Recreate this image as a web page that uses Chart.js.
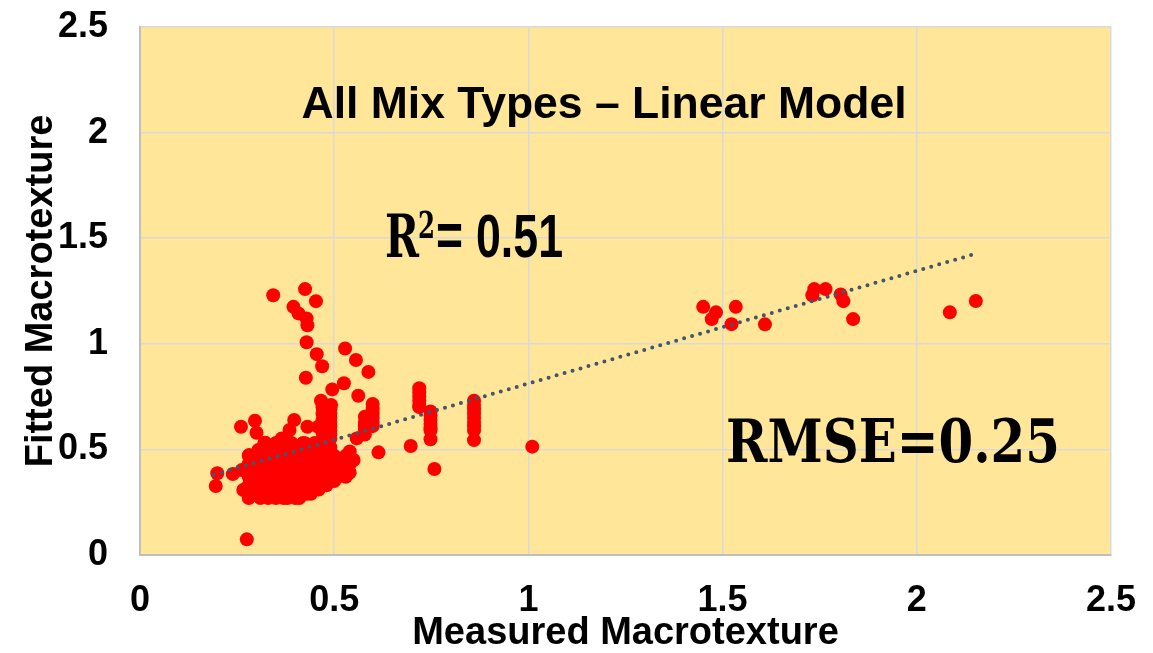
<!DOCTYPE html>
<html>
<head>
<meta charset="utf-8">
<script src="https://cdn.jsdelivr.net/npm/chart.js@4.4.1/dist/chart.umd.min.js"></script>
<style>
  html, body { margin: 0; padding: 0; background: #fff; }
  canvas { display: block; }
</style>
</head>
<body>
<canvas id="chart" width="1153" height="653"></canvas>
<script>
(function () {

  // [measured, fitted] pairs, dense group around 0.3 - 0.55
  const clusterPoints = [
    [0.28,0.27],[0.31,0.27],[0.33,0.27],[0.35,0.27],[0.37,0.27],[0.38,0.27],[0.40,0.27],[0.41,0.27],
    [0.29,0.29],[0.32,0.29],[0.34,0.29],[0.36,0.29],[0.39,0.29],[0.42,0.29],[0.43,0.29],[0.44,0.29],
    [0.27,0.31],[0.30,0.31],[0.33,0.31],[0.35,0.31],[0.37,0.31],[0.40,0.31],[0.42,0.31],[0.45,0.31],[0.46,0.31],
    [0.28,0.33],[0.31,0.33],[0.34,0.33],[0.36,0.33],[0.38,0.33],[0.41,0.33],[0.43,0.33],[0.46,0.33],[0.48,0.33],
    [0.29,0.35],[0.32,0.35],[0.35,0.35],[0.37,0.35],[0.39,0.35],[0.41,0.35],[0.44,0.35],[0.47,0.35],[0.50,0.35],
    [0.28,0.37],[0.30,0.37],[0.33,0.37],[0.36,0.37],[0.38,0.37],[0.40,0.37],[0.42,0.37],[0.45,0.37],[0.48,0.37],[0.51,0.37],[0.53,0.37],
    [0.29,0.39],[0.31,0.39],[0.34,0.39],[0.37,0.39],[0.39,0.39],[0.41,0.39],[0.43,0.39],[0.46,0.39],[0.49,0.39],[0.51,0.39],[0.54,0.39],
    [0.30,0.41],[0.33,0.41],[0.35,0.41],[0.38,0.41],[0.40,0.41],[0.42,0.41],[0.44,0.41],[0.47,0.41],[0.50,0.41],[0.53,0.41],
    [0.28,0.43],[0.31,0.43],[0.34,0.43],[0.36,0.43],[0.39,0.43],[0.41,0.43],[0.43,0.43],[0.45,0.43],[0.48,0.43],[0.51,0.43],[0.54,0.43],
    [0.30,0.45],[0.33,0.45],[0.35,0.45],[0.37,0.45],[0.40,0.45],[0.42,0.45],[0.44,0.45],[0.46,0.45],[0.49,0.45],[0.51,0.45],[0.55,0.45],
    [0.28,0.47],[0.32,0.47],[0.34,0.47],[0.36,0.47],[0.38,0.47],[0.41,0.47],[0.43,0.47],[0.45,0.47],[0.48,0.47],[0.50,0.47],[0.53,0.47],
    [0.31,0.49],[0.34,0.49],[0.37,0.49],[0.39,0.49],[0.42,0.49],[0.44,0.49],[0.47,0.49],[0.49,0.49],[0.54,0.49],
    [0.33,0.51],[0.36,0.51],[0.38,0.51],[0.40,0.51],[0.43,0.51],[0.46,0.51],[0.49,0.51],
    [0.32,0.53],[0.35,0.53],[0.39,0.53],[0.42,0.53],[0.45,0.53],[0.48,0.53]
  ];

  // scattered low-range points and the upper arm near 0.4
  const spreadPoints = [
    [0.275,0.074],[0.199,0.387],[0.195,0.327],[0.239,0.383],
    [0.260,0.607],[0.296,0.636],[0.300,0.579],[0.323,0.531],[0.397,0.639],[0.365,0.552],
    [0.385,0.592],[0.431,0.607],[0.459,0.607],[0.425,0.529],[0.281,0.473],[0.305,0.497],
    [0.262,0.402],[0.281,0.434],[0.266,0.308],[0.283,0.339],[0.339,0.481],
    [0.343,1.230],[0.425,1.259],[0.453,1.202],[0.395,1.175],[0.408,1.144],[0.429,1.120],
    [0.431,1.088],[0.429,1.007],[0.455,0.951],[0.469,0.894],[0.427,0.839],[0.528,0.978],
    [0.556,0.923],[0.588,0.867],[0.525,0.813],[0.495,0.784],[0.562,0.754],[0.466,0.730],
    [0.492,0.710],[0.614,0.486],[0.697,0.516],[1.010,0.513],[0.758,0.407]
  ];

  // repeated measurements stacked at one measured value
  const columnPoints = [
    [0.47,0.70],[0.47,0.67],[0.47,0.64],[0.47,0.61],[0.47,0.58],[0.47,0.55],
    [0.49,0.69],[0.49,0.67],[0.49,0.65],[0.49,0.63],[0.49,0.61],[0.49,0.59],[0.49,0.57],[0.49,0.55],
    [0.599,0.715],[0.599,0.69],[0.599,0.67],[0.599,0.65],[0.599,0.63],[0.599,0.61],
    [0.579,0.655],[0.579,0.63],[0.579,0.61],[0.579,0.59],[0.579,0.57],[0.558,0.552],
    [0.719,0.79],[0.719,0.77],[0.719,0.75],[0.719,0.73],[0.719,0.71],[0.719,0.70],
    [0.748,0.68],[0.748,0.66],[0.748,0.64],[0.748,0.62],[0.748,0.60],[0.748,0.59],[0.748,0.548],
    [0.860,0.73],[0.860,0.71],[0.860,0.69],[0.860,0.67],[0.860,0.65],[0.860,0.63],[0.860,0.61],[0.860,0.59],[0.860,0.544]
  ];

  // high macrotexture sections
  const highPoints = [
    [1.450,1.175],[1.483,1.149],[1.472,1.117],[1.534,1.175],[1.523,1.093],[1.609,1.092],
    [1.736,1.259],[1.731,1.230],[1.765,1.259],[1.804,1.234],[1.811,1.202],[1.836,1.117],
    [2.085,1.149],[2.152,1.203]
  ];

  // linear trend end points
  const trendMeasured = [0.19, 2.14];
  const trendFitted = [0.38, 1.42];

  const axisTicks = [0, 0.5, 1, 1.5, 2, 2.5];

  const titleText = 'All Mix Types \u2013 Linear Model';
  const rSquared = '0.51';
  const rmse = '0.25';

  const toXY = pairs => pairs.map(([x, y]) => ({ x, y }));
  const points = toXY([...clusterPoints, ...spreadPoints, ...columnPoints, ...highPoints]);
  const trend = trendMeasured.map((x, i) => ({ x, y: trendFitted[i] }));

  const tickFont = { family: '"Liberation Sans", Arial, sans-serif', size: 36, weight: 'bold' };
  const titleFont = { family: '"Liberation Sans", Arial, sans-serif', size: 38, weight: 'bold', lineHeight: 1 };

  // fill behind the plot area only
  const plotBackground = {
    id: 'plotBackground',
    beforeDraw(chart) {
      const { ctx, chartArea: a } = chart;
      ctx.save();
      ctx.fillStyle = '#FFE699';
      ctx.fillRect(a.left, a.top, a.right - a.left, a.bottom - a.top);
      ctx.restore();
    }
  };

  // heading and fit statistics written inside the plot
  const chartNotes = {
    id: 'chartNotes',
    afterDraw(chart) {
      const ctx = chart.ctx;
      ctx.save();
      ctx.fillStyle = '#000';
      ctx.textBaseline = 'alphabetic';

      ctx.textAlign = 'center';
      ctx.font = 'bold 44.5px "Liberation Sans", Arial, sans-serif';
      ctx.fillText(titleText, 604, 118);

      ctx.textAlign = 'left';
      ctx.font = 'bold 59px "DejaVu Serif", serif';
      ctx.fillText('R', 385, 257, 34);
      ctx.font = 'bold 38px "DejaVu Serif", serif';
      ctx.fillText('2', 418, 238, 17);
      ctx.font = 'bold 62px "Liberation Sans", Arial, sans-serif';
      ctx.fillText('=', 436, 256, 27);
      ctx.font = 'bold 61px "Liberation Sans", Arial, sans-serif';
      ctx.fillText(rSquared, 476, 257, 87);

      ctx.font = 'bold 60px "DejaVu Serif", serif';
      ctx.fillText('RMSE=' + rmse, 726, 462, 334);
      ctx.restore();
    }
  };

  const axis = (label) => ({
    type: 'linear',
    min: 0,
    max: 2.5,
    afterBuildTicks: scale => { scale.ticks = axisTicks.map(value => ({ value })); },
    ticks: { color: '#000', font: tickFont, callback: value => String(value) },
    grid: { color: '#D9D9D9', lineWidth: 1.5, drawTicks: false },
    border: { color: '#BFBFBF', width: 2 },
    title: { display: true, text: label, color: '#000', font: titleFont }
  });

  // fixed axis boxes; end labels may spill into the outer margin
  const xAxis = axis('Measured Macrotexture');
  xAxis.ticks.padding = 24;
  xAxis.title.padding = { top: 0, bottom: 0 };
  xAxis.afterFit = scale => {
    scale.height = 98;
    scale.paddingLeft = 0;
    scale.paddingRight = 0;
  };

  const yAxis = axis('Fitted Macrotexture');
  yAxis.ticks.padding = 32;
  yAxis.title.padding = { top: 23, bottom: 0 };
  yAxis.afterFit = scale => {
    scale.width = 140;
    scale.paddingTop = 0;
    scale.paddingBottom = 0;
  };

  new Chart(document.getElementById('chart').getContext('2d'), {
    type: 'scatter',
    data: {
      datasets: [
        {
          label: 'Trend',
          type: 'line',
          data: trend,
          order: 0,
          borderColor: '#44546A',
          borderWidth: 4,
          borderDash: [0, 8.3],
          borderCapStyle: 'round',
          pointRadius: 0,
          fill: false
        },
        {
          label: 'Fitted vs measured',
          data: points,
          order: 1,
          backgroundColor: '#FF0000',
          borderWidth: 0,
          pointRadius: 7,
          pointHoverRadius: 7
        }
      ]
    },
    options: {
      responsive: false,
      animation: false,
      events: [],
      layout: { autoPadding: false, padding: { top: 27, right: 42, bottom: 0, left: 0 } },
      plugins: { legend: { display: false }, tooltip: { enabled: false } },
      scales: { x: xAxis, y: yAxis }
    },
    plugins: [plotBackground, chartNotes]
  });
})();
</script>
</body>
</html>
